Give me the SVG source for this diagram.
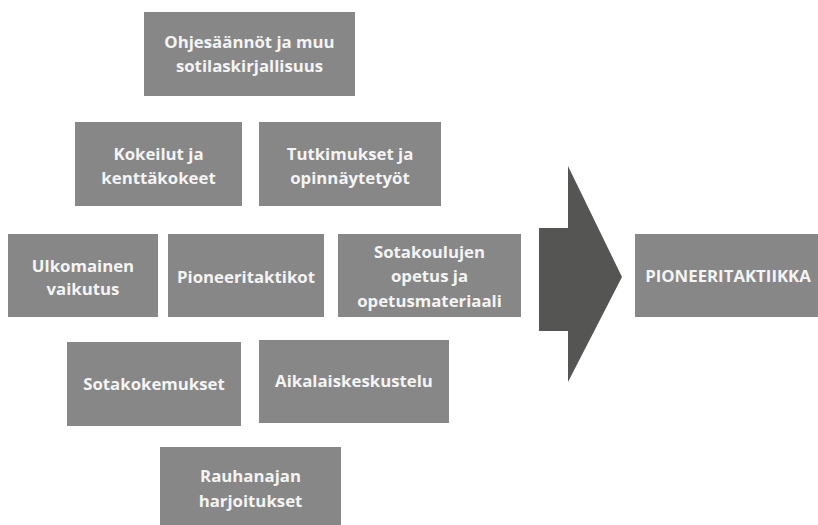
<svg xmlns="http://www.w3.org/2000/svg" width="818" height="525" viewBox="0 0 818 525">
<style>
.box{fill:#878787}
.t{font-family:"Open Sans","Liberation Sans",sans-serif;font-weight:bold;font-size:16.8px;fill:#f4f4f4;text-anchor:middle}
</style>
<rect width="818" height="525" fill="#ffffff"/>
<g id="n1"><rect class="box" x="144" y="12" width="211" height="84"/><text class="t" x="249.5" y="48">Ohjesäännöt ja muu</text><text class="t" x="249.5" y="72">sotilaskirjallisuus</text></g>
<g id="n2"><rect class="box" x="75" y="122" width="167" height="84"/><text class="t" x="158.5" y="160">Kokeilut ja</text><text class="t" x="158.5" y="184">kenttäkokeet</text></g>
<g id="n3"><rect class="box" x="259" y="122" width="182" height="84"/><text class="t" x="350" y="160">Tutkimukset ja</text><text class="t" x="350" y="184">opinnäytetyöt</text></g>
<g id="n4"><rect class="box" x="8" y="234" width="150" height="83"/><text class="t" x="83" y="272">Ulkomainen</text><text class="t" x="83" y="295">vaikutus</text></g>
<g id="n5"><rect class="box" x="168" y="234" width="156" height="83"/><text class="t" x="246" y="283">Pioneeritaktikot</text></g>
<g id="n6"><rect class="box" x="338" y="234" width="183" height="83"/><text class="t" x="429.5" y="258">Sotakoulujen</text><text class="t" x="429.5" y="282">opetus ja</text><text class="t" x="429.5" y="307">opetusmateriaali</text></g>
<g id="n7"><rect class="box" x="67" y="342" width="174" height="84"/><text class="t" x="154" y="390">Sotakokemukset</text></g>
<g id="n8"><rect class="box" x="259" y="340" width="190" height="83"/><text class="t" x="354" y="387">Aikalaiskeskustelu</text></g>
<g id="n9"><rect class="box" x="160" y="447" width="181" height="78"/><text class="t" x="250.5" y="482">Rauhanajan</text><text class="t" x="250.5" y="507">harjoitukset</text></g>
<g id="arrow"><polygon points="539,228 568,228 568,166 622,277 568,382 568,331 539,331" fill="#555553"/></g>
<g id="n10"><rect class="box" x="635" y="234" width="183" height="83"/><text class="t" x="728" y="282">PIONEERITAKTIIKKA</text></g>
<g id="connectors"></g>
</svg>
